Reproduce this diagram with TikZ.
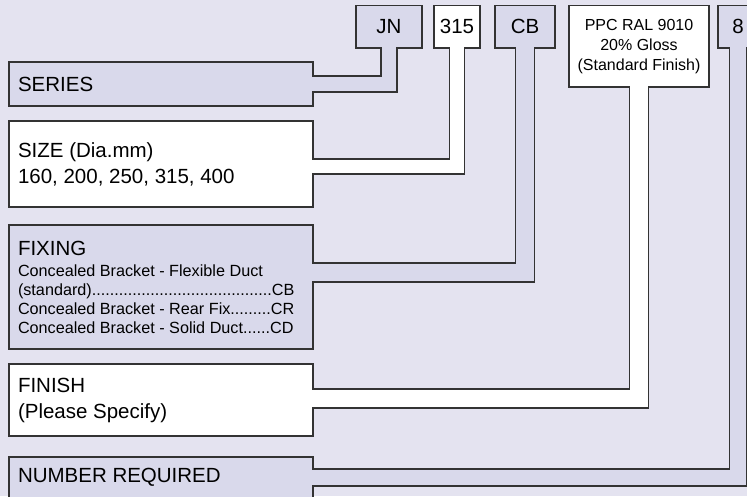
\documentclass[tikz,border=0pt]{standalone}
\usepackage{fontspec}
\setmainfont{Liberation Sans}
\usetikzlibrary{calc}
\definecolor{bg}{HTML}{E4E3F0}
\definecolor{lav}{HTML}{D9D9EB}
\definecolor{edge}{HTML}{333333}
\begin{document}
\begin{tikzpicture}[x=1pt,y=-1pt,
  box/.style={draw=edge, line width=1.2pt, inner sep=0pt, outer sep=0pt},
  lbox/.style={box, anchor=north west, minimum width=304, text width=286, inner xsep=9, align=flush left, font=\fontsize{20.5}{26}\selectfont},
  tbox/.style={box, anchor=north, minimum height=42.5, align=center, font=\fontsize{20.5}{24}\selectfont},
  band/.style={draw=edge, line width=1.2pt, double distance=#1, line join=miter}
]
\useasboundingbox (0,0) rectangle (747,496);
\clip (0,0) rectangle (747,496);
\fill[bg] (0,0) rectangle (747,496);

% top code boxes
\node[tbox, fill=lav, minimum width=66] (JN) at (389,5.5) {JN};
\node[tbox, fill=white, minimum width=46] (n315) at (457,5.5) {315};
\node[tbox, fill=lav, minimum width=60] (CB) at (525,5.5) {CB};
\node[tbox, fill=white, minimum width=140, minimum height=81.5, font=\fontsize{16}{20}\selectfont] (PPC) at (639,5.5) {PPC RAL 9010\\20\% Gloss\\(Standard Finish)};
\node[tbox, fill=lav, minimum width=40] (N8) at (738,5.5) {8};

% left label boxes
\node[lbox, fill=lav, minimum height=44] (SERIES) at (9,62) {SERIES};
\node[lbox, fill=white, minimum height=86] (SIZE) at (9,121) {SIZE (Dia.mm)\\160, 200, 250, 315, 400};
\node[lbox, fill=lav, minimum height=124] (FIXING) at (9,225) {FIXING\\[2pt]
{\fontsize{16.2}{19}\selectfont Concealed Bracket - Flexible Duct\\
(standard)........................................CB\\
Concealed Bracket - Rear Fix.........CR\\
Concealed Bracket - Solid Duct......CD\par}};
\node[lbox, fill=white, minimum height=72] (FINISH) at (9,364) {FINISH\\(Please Specify)};
\node[lbox, fill=lav, minimum height=41] (NUMBER) at (9,457) {NUMBER REQUIRED};

% band corners
\coordinate (c1) at (389,84);
\coordinate (c2) at (457,166.5);
\coordinate (c3) at (525,272.5);
\coordinate (c4) at (639,398.5);
\coordinate (c5) at (738,477.5);

% connecting bands
\draw[band=14.8, double=lav] ($(SERIES.east |- c1)+(-1,0)$) -| ($(JN.south)+(0,-1)$);
\draw[band=13.8, double=white] ($(SIZE.east |- c2)+(-1,0)$) -| ($(n315.south)+(0,-1)$);
\draw[band=17.8, double=lav] ($(FIXING.east |- c3)+(-1,0)$) -| ($(CB.south)+(0,-1)$);
\draw[band=17.8, double=white] ($(FINISH.east |- c4)+(-1,0)$) -| ($(PPC.south)+(0,-1)$);
\draw[band=15.8, double=lav] ($(NUMBER.east |- c5)+(-1,0)$) -| ($(N8.south)+(0,-1)$);
\end{tikzpicture}
\end{document}
